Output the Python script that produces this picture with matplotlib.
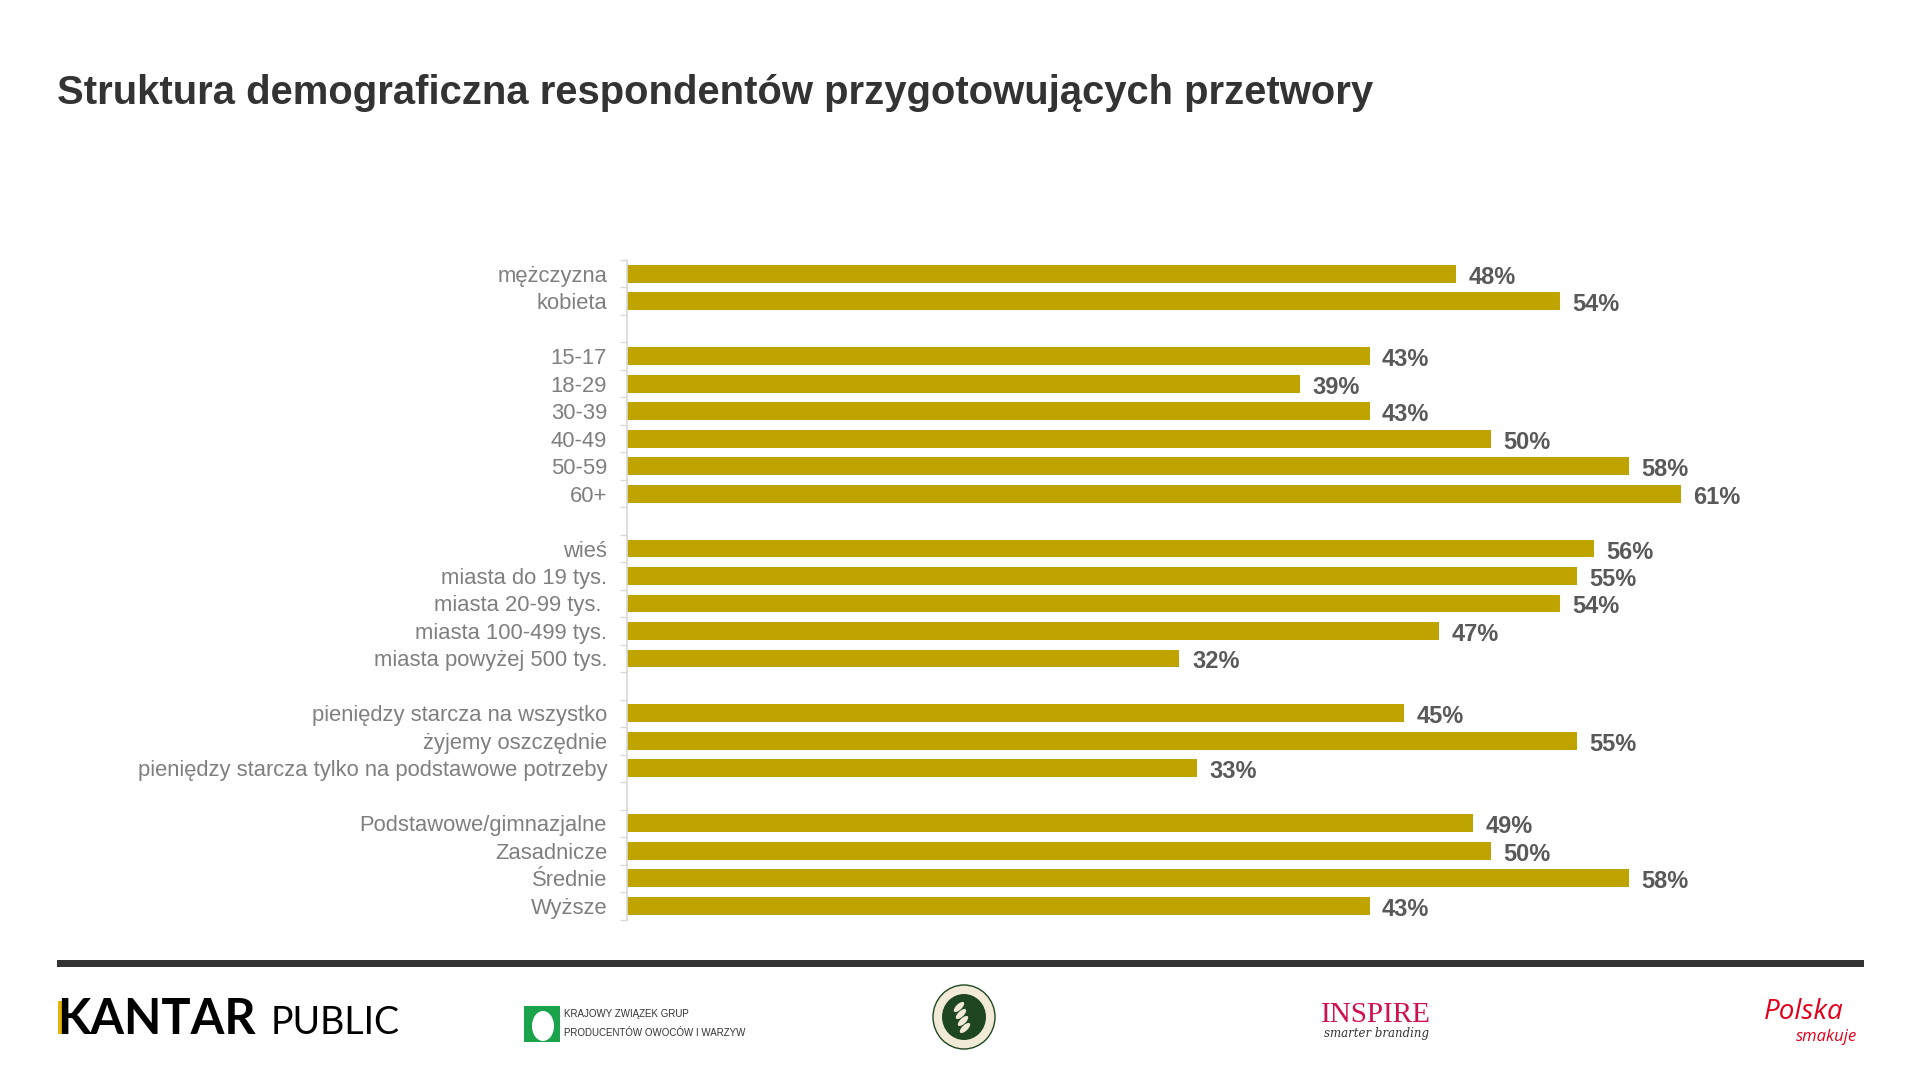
import matplotlib
matplotlib.use("Agg")
from matplotlib import pyplot as plt
from matplotlib.patches import Rectangle, Ellipse
import numpy as np

plt.rcParams['font.family'] = ['Liberation Sans', 'DejaVu Sans']

# data, one list per group (a blank row separates groups)
gender = ["mężczyzna", "kobieta"]
gender_vals = [48, 54]
age = ["15-17", "18-29", "30-39", "40-49", "50-59", "60+"]
age_vals = [43, 39, 43, 50, 58, 61]
place = ["wieś", "miasta do 19 tys.", "miasta 20-99 tys. ", "miasta 100-499 tys.", "miasta powyżej 500 tys."]
place_vals = [56, 55, 54, 47, 32]
income = ["pieniędzy starcza na wszystko", "żyjemy oszczędnie", "pieniędzy starcza tylko na podstawowe potrzeby"]
income_vals = [45, 55, 33]
education = ["Podstawowe/gimnazjalne", "Zasadnicze", "Średnie", "Wyższe"]
education_vals = [49, 50, 58, 43]

groups = [(gender, gender_vals), (age, age_vals), (place, place_vals),
          (income, income_vals), (education, education_vals)]

labels, values = [], []
for k, (cats, vals) in enumerate(groups):
    if k > 0:
        labels.append("")
        values.append(np.nan)
    labels += cats
    values += vals
values = np.array(values, dtype=float)
pos = np.arange(len(labels))

W, H = 1920, 1080
def fx(x):
    return x / W
def fy(y):
    return 1 - y / H

fig = plt.figure(figsize=(19.2, 10.8), dpi=100)
fig.patch.set_facecolor("white")

ax = fig.add_axes([fx(626.5), fy(919.5), 70 * 17.28 / W, (919.5 - 260) / H])
ok = ~np.isnan(values)
ax.barh(pos[ok], values[ok], height=0.65, color="#bfa400", zorder=2)
ax.set_ylim(len(labels) - 0.5, -0.5)
ax.set_xlim(0, 70)

for p, v in zip(pos[ok], values[ok]):
    ax.annotate(f"{v:.0f}%", xy=(v, p), xytext=(9, -2.5), textcoords="offset points",
                ha="left", va="center", fontsize=17, fontweight="bold", color="#595959")

ax.set_yticks(pos)
ax.set_yticklabels(labels, fontsize=15.8, color="#7f7f7f")
ax.tick_params(axis="y", which="major", length=0, pad=14)
ax.set_yticks(np.arange(-0.5, len(labels), 1.0), minor=True)
ax.tick_params(axis="y", which="minor", length=5, width=1, color="#d9d9d9")
ax.set_xticks([])
for s in ["top", "right", "bottom"]:
    ax.spines[s].set_visible(False)
ax.spines["left"].set_color("#d9d9d9")
ax.spines["left"].set_linewidth(1.2)

fig.text(fx(57), fy(104), "Struktura demograficzna respondentów przygotowujących przetwory",
         fontsize=28.8, fontweight="bold", color="#333333", ha="left", va="baseline")

# footer rule
fig.add_artist(Rectangle((fx(57), fy(967)), fx(1864) - fx(57), 7 / H,
                         transform=fig.transFigure, color="#333333", lw=0))

# KANTAR PUBLIC
fig.text(fx(57), fy(1034), "KANTAR", fontsize=35, fontweight="bold", color="black",
         ha="left", va="baseline", family="Lato")
fig.text(fx(271), fy(1034), "PUBLIC", fontsize=27, color="black",
         ha="left", va="baseline", family="Lato")
fig.add_artist(Rectangle((fx(58), fy(1034)), 6 / W, 33 / H, transform=fig.transFigure,
                         color="#e2b40c", lw=0))

# Krajowy Zwiazek Grup logo
fig.add_artist(Rectangle((fx(524), fy(1042)), 36 / W, 36 / H, transform=fig.transFigure,
                         color="#1aa34a", lw=0))
fig.add_artist(Ellipse((fx(543), fy(1026)), 22 / W, 30 / H, transform=fig.transFigure,
                       color="white", lw=0))
fig.text(fx(564), fy(1014), "KRAJOWY ZWIĄZEK GRUP", fontsize=7, color="#333333",
         ha="left", va="center")
fig.text(fx(564), fy(1033), "PRODUCENTÓW OWOCÓW I WARZYW", fontsize=7, color="#333333",
         ha="left", va="center")

# ministry seal
fig.add_artist(Ellipse((fx(964), fy(1017)), 62 / W, 64 / H, transform=fig.transFigure,
                       facecolor="#f1ead6", edgecolor="#1e4620", lw=1))
fig.add_artist(Ellipse((fx(964), fy(1017)), 44 / W, 46 / H, transform=fig.transFigure,
                       color="#1e4620", lw=0))
for dx, dy in [(-3, -10), (-1, -3), (1, 4), (3, 11)]:
    fig.add_artist(Ellipse((fx(962 + dx), fy(1017 + dy)), 7 / W, 11 / H, angle=-25,
                           transform=fig.transFigure, color="#f1ead6", lw=0))

# INSPIRE
fig.text(fx(1376), fy(1022), "INSPIRE", fontsize=21, color="#d0104c", ha="center",
         va="baseline", family="Liberation Serif")
fig.text(fx(1376), fy(1034), "smarter branding", fontsize=8.5, color="#333333",
         ha="center", va="center", family="DejaVu Serif", style="italic")

# Polska smakuje
fig.text(fx(1804), fy(1019), "Polska", fontsize=20, color="#e3001b", ha="center",
         va="baseline", style="italic", family="Open Sans")
fig.text(fx(1827), fy(1037), "smakuje", fontsize=12, color="#e3001b", ha="center",
         va="center", style="italic", family="Open Sans")

fig.savefig("out.png", dpi=100)
